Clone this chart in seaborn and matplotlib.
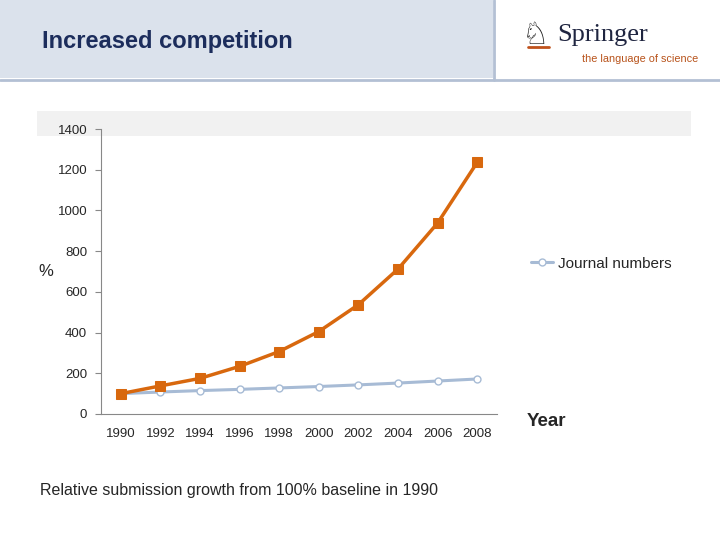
import matplotlib.pyplot as plt
import numpy as np
import pandas as pd
import seaborn as sns
from matplotlib.patches import Rectangle
from matplotlib.lines import Line2D

#%% data
years = ['1990', '1992', '1994', '1996', '1998', '2000', '2002', '2004', '2006', '2008']
submissions = [100, 138, 175, 234, 307, 405, 537, 712, 938, 1236]
journals = [100, 108, 115, 121, 128, 135, 143, 152, 162, 172]
y_ticks = [0, 200, 400, 600, 800, 1000, 1200, 1400]

df = pd.DataFrame({'pos': np.arange(len(years)), 'year': years,
                   'submissions': submissions, 'journals': journals})

orange = '#d8680e'
blue = '#a7bbd5'

sns.set_style('white')
plt.rcParams['font.family'] = ['Liberation Sans', 'DejaVu Sans']

fig = plt.figure(figsize=[7.2, 5.4], dpi=100, facecolor='white')

#%% slide header
fig.patches.append(Rectangle((0, 1 - 78/540), 493/720, 78/540, transform=fig.transFigure,
                             facecolor='#dbe2ec', edgecolor='none', zorder=-2))
fig.lines.append(Line2D([494/720, 494/720], [1 - 80/540, 1], transform=fig.transFigure,
                        color='#b3c0d4', linewidth=2, zorder=-1))
fig.lines.append(Line2D([0, 1], [1 - 80/540, 1 - 80/540], transform=fig.transFigure,
                        color='#b3c0d4', linewidth=2, zorder=-1))
fig.text(42/720, 1 - 42/540, 'Increased competition', fontsize=17, fontweight='bold',
         color='#1c2d5c', va='center', ha='left')
fig.text(521/720, 1 - 35/540, '\u2658', fontsize=22, color='#222222', va='center', ha='left',
         family='DejaVu Sans')
fig.lines.append(Line2D([528/720, 549/720], [1 - 47/540, 1 - 47/540], transform=fig.transFigure,
                        color='#c0521c', linewidth=2))
fig.text(557/720, 1 - 35/540, 'Springer', fontsize=19, color='#1f2540', va='center', ha='left',
         family=['Liberation Serif', 'DejaVu Serif'])
fig.text(582/720, 1 - 59/540, 'the language of science', fontsize=7.8, color='#b8531b',
         va='center', ha='left')

# grey band behind the top of the chart
fig.patches.append(Rectangle((37/720, 1 - 136/540), (691 - 37)/720, 25/540,
                             transform=fig.transFigure, facecolor='#f1f1f1',
                             edgecolor='none', zorder=-2))

#%% chart
ax = fig.add_axes([101/720, 1 - 414/540, (497 - 101)/720, (414 - 129)/540])
ax.patch.set_alpha(0)
sns.lineplot(data=df, x='pos', y='journals', ax=ax, color=blue, linewidth=2.2,
             marker='o', markersize=5, markerfacecolor='white', markeredgecolor=blue,
             markeredgewidth=1, label='Journal numbers')
sns.lineplot(data=df, x='pos', y='submissions', ax=ax, color=orange, linewidth=2.5,
             marker='s', markersize=6.5, markeredgecolor=orange, legend=False)

ax.set_xlim(-0.5, len(years) - 0.5)
ax.set_ylim(0, 1400)
ax.set_yticks(y_ticks)
ax.set_yticklabels([str(v) for v in y_ticks], fontsize=9.5)
ax.set_xticks(df.pos)
ax.set_xticklabels(years, fontsize=9.5)
ax.set_xticks(np.arange(-0.5, len(years)), minor=True)
ax.tick_params(axis='x', which='major', length=0, pad=10)
ax.tick_params(axis='x', which='minor', length=4, color='#888888', direction='out')
ax.tick_params(axis='y', which='major', length=4, color='#888888', direction='out', left=True, pad=6)
ax.set_xlabel('')
ax.set_ylabel('')
for s in ['top', 'right']:
    ax.spines[s].set_visible(False)
for s in ['left', 'bottom']:
    ax.spines[s].set_color('#888888')
    ax.spines[s].set_linewidth(0.8)

leg = ax.legend(loc='center left', bbox_to_anchor=(1.05, 0.527), frameon=False, fontsize=11,
                handlelength=1.5, handletextpad=0.3)

fig.text(46/720, 1 - 272/540, '%', fontsize=12, va='center', ha='center')
fig.text(527/720, 1 - 422/540, 'Year', fontsize=13.5, fontweight='bold', va='center', ha='left')
fig.text(40/720, 1 - 491/540, 'Relative submission growth from 100% baseline in 1990',
         fontsize=11.5, va='center', ha='left')

plt.savefig('out.png', dpi=100, facecolor='white')
